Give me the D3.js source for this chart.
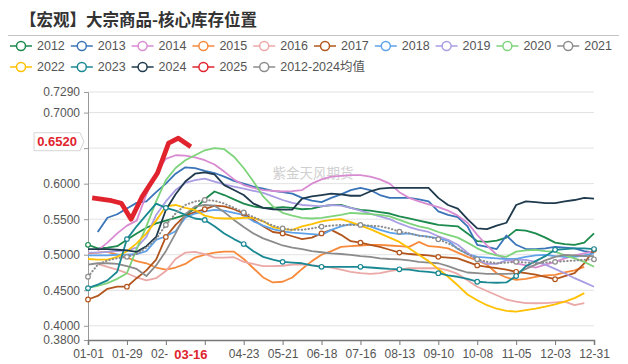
<!DOCTYPE html>
<meta charset="utf-8">
<title>大宗商品-核心库存位置</title>
<style>
  body { margin: 0; background: #fff; }
  svg text { font-family: "Liberation Sans", "Noto Sans CJK SC", sans-serif; }
</style>
<body>
<div id="chart"></div>
<script src="https://cdn.jsdelivr.net/npm/d3@7/dist/d3.min.js"></script>
<script>

// weekly dates shared by 2012-2024 and the average
var weeks = ["01-01","01-08","01-15","01-22","01-29","02-05","02-12","02-19","02-26","03-05","03-12","03-19","03-26",
  "04-02","04-09","04-16","04-23","04-30","05-07","05-14","05-21","05-28","06-04","06-11","06-18","06-25",
  "07-02","07-09","07-16","07-23","07-30","08-06","08-13","08-20","08-27","09-03","09-10","09-17","09-24",
  "10-01","10-08","10-15","10-22","10-29","11-05","11-12","11-19","11-26","12-03","12-10","12-17","12-24","12-31"];

var xTicks = ["01-01","01-29","02-26","03-26","04-23","05-21","06-18","07-16","08-13","09-10","10-08","11-05","12-03","12-31"];
var yTicks = [0.38, 0.40, 0.45, 0.50, 0.55, 0.60, 0.65, 0.70, 0.729];

var s2012 = [0.514,0.509,0.510,0.512,0.521,0.530,0.538,0.544,0.548,0.552,0.556,0.565,0.578,0.589,0.584,0.578,0.572,0.568,0.566,0.566,
  0.567,0.566,0.564,0.565,0.568,0.570,0.570,0.566,0.563,0.562,0.560,0.558,0.554,0.551,0.548,0.545,0.542,0.541,0.540,0.530,
  0.519,0.518,0.520,0.524,0.535,0.534,0.530,0.524,0.517,0.515,0.514,0.517,0.530];
var s2013 = [null,0.532,0.552,0.557,0.565,0.573,0.575,0.588,0.600,0.614,0.623,0.622,0.618,0.615,0.610,0.604,0.600,0.596,0.593,0.590,
  0.588,0.586,0.580,0.576,0.574,0.580,0.585,0.591,0.594,0.591,0.584,0.580,0.580,0.580,0.578,0.575,0.561,0.556,0.553,0.540,
  0.514,0.511,0.508,0.527,0.514,0.508,0.508,0.509,0.511,0.510,0.509,0.505,0.503];
var s2014 = [null,0.506,0.517,0.530,0.541,0.548,0.585,0.615,0.635,0.640,0.6395,0.637,0.633,0.627,0.617,0.606,0.598,0.594,0.591,0.590,
  0.589,0.5895,0.591,0.600,0.606,0.610,0.611,0.612,0.612,0.610,0.606,0.600,0.588,0.580,0.575,0.571,0.567,0.562,0.555,0.545,
  0.528,0.513,0.500,0.494,0.488,0.485,0.482,0.486,0.490,0.495,0.499,0.502,0.505];
var s2015 = [0.502,0.503,0.504,0.500,0.496,0.491,0.488,0.482,0.479,0.482,0.487,0.496,0.500,0.503,0.5044,0.5044,0.494,0.481,0.468,0.461,
  0.462,0.468,0.480,0.491,0.500,0.505,0.511,0.512,0.513,0.514,0.514,0.513,0.512,0.511,0.518,0.512,0.511,0.509,0.503,0.497,
  0.492,0.486,0.474,0.468,0.4645,0.466,0.469,0.471,0.4716,0.475,0.478,0.483,null];
var s2016 = [null,0.487,0.483,0.479,0.474,0.468,0.464,0.467,0.477,0.494,0.503,0.504,0.501,0.496,0.496,0.4965,0.490,0.487,0.484,0.484,
  0.4845,0.486,0.486,0.485,0.484,0.482,0.479,0.476,0.474,0.473,0.474,0.477,0.479,0.481,0.481,0.481,0.481,0.478,0.473,0.464,
  0.455,0.449,0.443,0.437,0.434,0.432,0.4317,0.432,0.433,0.434,0.429,0.432,null];
var s2017 = [0.437,0.442,0.452,0.455,0.455,0.467,0.478,0.493,0.525,0.542,0.555,0.560,0.564,0.569,0.568,0.564,0.558,0.549,0.540,0.532,
  0.530,0.526,0.522,0.524,0.530,0.535,0.528,0.519,0.517,0.514,0.511,0.507,0.503,0.501,0.500,0.499,0.497,0.496,0.495,0.490,
  0.485,0.483,0.481,0.479,0.476,0.474,0.472,0.469,0.4655,0.470,0.474,0.488,0.507];
var s2018 = [0.499,0.499,0.499,0.500,0.500,0.501,0.505,0.521,0.526,0.533,0.552,0.558,0.561,0.563,0.562,0.559,0.556,0.547,0.541,0.536,
  0.533,0.531,0.530,0.529,0.528,0.535,0.540,0.543,0.542,0.540,0.535,0.531,0.529,0.530,0.527,0.5255,0.523,0.520,0.508,0.501,
  0.497,0.496,0.495,0.494,0.494,0.497,0.499,0.4997,0.498,0.497,0.497,0.499,0.502];
var s2019 = [0.503,0.503,0.504,0.505,0.506,0.510,0.525,0.556,0.575,0.591,0.601,0.605,0.607,0.603,0.599,0.596,0.593,0.590,0.587,0.582,
  0.577,0.573,0.570,0.569,0.568,0.570,0.569,0.566,0.562,0.558,0.554,0.550,0.544,0.539,0.535,0.532,0.526,0.521,0.514,0.503,
  0.4927,0.487,0.487,0.492,0.4927,0.4927,0.490,0.486,0.480,0.474,0.467,0.461,0.455];
var s2020 = [0.454,0.456,0.460,0.466,0.474,0.508,0.540,0.575,0.605,0.622,0.633,0.640,0.647,0.650,0.6485,0.638,0.622,0.603,0.582,0.568,
  0.559,0.555,0.552,0.551,0.552,0.554,0.556,0.559,0.558,0.557,0.556,0.554,0.549,0.544,0.540,0.537,0.532,0.528,0.524,0.517,
  0.509,0.503,0.499,0.497,0.5044,0.506,0.5068,0.505,0.5044,0.499,0.495,0.490,0.483];
var s2021 = [0.486,0.488,0.488,0.487,0.484,0.480,0.470,0.485,0.505,0.530,0.557,0.568,0.570,0.569,0.560,0.549,0.539,0.530,0.523,0.518,
  0.513,0.510,0.508,0.505,0.5035,0.502,0.501,0.4997,0.498,0.497,0.495,0.494,0.4936,0.492,0.490,0.489,0.488,0.484,0.479,0.475,
  0.474,0.473,0.473,0.473,0.474,0.480,0.486,0.492,0.497,0.4997,0.499,0.498,0.498];
var s2022 = [0.494,0.493,0.493,0.497,0.505,0.516,0.530,0.548,0.568,0.570,0.566,0.563,0.555,0.552,0.551,0.551,0.552,0.552,0.547,0.539,
  0.536,0.535,0.540,0.543,0.547,0.549,0.550,0.546,0.541,0.536,0.530,0.524,0.518,0.509,0.500,0.491,0.480,0.469,0.457,0.444,
  0.436,0.429,0.424,0.421,0.420,0.422,0.424,0.427,0.430,0.434,0.439,0.446,null];
var s2023 = [0.453,0.458,0.464,0.476,0.522,0.540,0.556,0.572,0.566,0.562,0.556,0.551,0.549,0.540,0.530,0.522,0.515,0.505,0.497,0.493,
  0.490,0.489,0.488,0.485,0.483,0.483,0.483,0.483,0.483,0.482,0.481,0.480,0.4795,0.479,0.477,0.476,0.474,0.471,0.469,0.466,
  0.462,0.461,0.4606,0.461,0.470,0.484,0.491,0.498,0.507,0.508,0.509,0.509,0.508];
var s2024 = [0.508,0.508,0.508,0.507,0.506,0.504,0.512,0.525,0.563,0.585,0.603,0.614,0.616,0.613,0.598,0.591,0.584,0.572,0.566,0.564,
  0.5635,0.5635,0.579,0.582,0.584,0.586,0.585,0.583,0.583,0.589,0.593,0.594,0.594,0.594,0.594,0.594,0.580,0.570,0.565,0.550,
  0.537,0.536,0.541,0.545,0.570,0.575,0.574,0.5725,0.5725,0.575,0.577,0.580,0.579];
var sAvg = [0.469,0.486,0.492,0.495,0.497,0.501,0.510,0.522,0.542,0.558,0.570,0.575,0.577,0.576,0.572,0.566,0.5594,0.553,0.547,0.541,
  0.537,0.535,0.535,0.537,0.5396,0.541,0.542,0.542,0.542,0.541,0.540,0.537,0.5325,0.530,0.527,0.525,0.5218,0.516,0.509,0.501,
  0.4936,0.490,0.488,0.489,0.490,0.489,0.488,0.489,0.490,0.491,0.4917,0.493,0.4936];

// 2025 has its own dates
var dates2025 = ["01-04","01-18","01-25","02-01","02-09","02-20","02-28","03-07","03-16"];
var s2025 = [0.580,0.576,0.5725,0.550,0.582,0.615,0.657,0.664,0.652];

var names = ["2012","2013","2014","2015","2016","2017","2018","2019","2020","2021","2022","2023","2024","2025","2012-2024均值"];
var colors = ["#1b8a4c","#3a74b8","#d98bd2","#f7893b","#eaa8a6","#b3561e","#5ea2ea","#a99de3","#7ed47b","#8c8c8c",
  "#ffc000","#1a8893","#1f3a4d","#e0232d","#8c8c8c"];

var monthStart = [0,31,59,90,120,151,181,212,243,273,304,334];
function dayOf(md) {
  var p = md.split("-");
  return monthStart[+p[0] - 1] + (+p[1]) - 1;
}

var weekly = [s2012,s2013,s2014,s2015,s2016,s2017,s2018,s2019,s2020,s2021,s2022,s2023,s2024];
var series = weekly.map(function(vals, i) {
  return { name: names[i], color: colors[i], points: vals.map(function(v, j) { return { day: dayOf(weeks[j]), v: v, j: j }; }) };
});
var avgSeries = { name: names[14], color: colors[14], points: sAvg.map(function(v, j) { return { day: dayOf(weeks[j]), v: v, j: j }; }) };
var s25 = { name: names[13], color: colors[13], points: s2025.map(function(v, j) { return { day: dayOf(dates2025[j]), v: v, j: j }; }) };

var W = 628, H = 364;
var margin = {top: 92, right: 34, bottom: 24, left: 88};
var width = W - margin.left - margin.right,
    height = H - margin.top - margin.bottom;

var svg = d3.select("#chart").append("svg")
  .attr("width", W).attr("height", H);

// title + separator
svg.append("text")
  .attr("x", 20).attr("y", 26)
  .style("font-family", "'Noto Sans CJK SC', sans-serif")
  .style("font-size", "16.5px").style("font-weight", "bold")
  .attr("fill", "#333")
  .text("【宏观】大宗商品-核心库存位置");
svg.append("line")
  .attr("x1", 8).attr("x2", 619).attr("y1", 35.5).attr("y2", 35.5)
  .attr("stroke", "#c4c4c4").attr("stroke-width", 1);

// legend
var legend = svg.append("g");
names.forEach(function(n, i) {
  var lx = 10 + (i % 10) * 60.8, ly = i < 10 ? 46 : 67;
  var g = legend.append("g").attr("transform", "translate(" + lx + "," + ly + ")");
  g.append("line").attr("x1", 0).attr("x2", 22).attr("stroke", colors[i]).attr("stroke-width", 1.5);
  g.append("circle").attr("cx", 11).attr("r", 4.5).attr("fill", "#fff").attr("stroke", colors[i]).attr("stroke-width", 1.5);
  g.append("text").attr("x", 27).attr("dy", "0.35em")
    .style("font-size", "12.5px").attr("fill", "#555").text(n);
});

var chart = svg.append("g").attr("transform", "translate(" + margin.left + "," + margin.top + ")");

var x = d3.scaleLinear().domain([0, 364]).range([0, width]);
var y = d3.scaleLinear().domain([0.38, 0.729]).range([height, 0]);

var lastV = s2025[s2025.length - 1];
var pointerDay = dayOf(dates2025[dates2025.length - 1]);

// grid
chart.append("g").selectAll("line")
  .data(yTicks.slice(1))
  .enter().append("line")
    .attr("x1", 0).attr("x2", width)
    .attr("y1", function(d) { return y(d); }).attr("y2", function(d) { return y(d); })
    .attr("stroke", "#e2e2e2").attr("stroke-width", 1);

// watermark
chart.append("text")
  .attr("x", 225).attr("y", 86)
  .attr("text-anchor", "middle")
  .style("font-family", "'Noto Sans CJK SC', sans-serif")
  .style("font-size", "13.5px").attr("fill", "#cfcfcf")
  .text("紫金天风期货");

// y axis (the tick label under the pointer box is hidden, as in the original)
var yAxis = chart.append("g")
  .call(d3.axisLeft(y).tickValues(yTicks).tickFormat(d3.format(".4f")).tickSize(4).tickPadding(4));
yAxis.select(".domain").attr("stroke", "#999");
yAxis.selectAll(".tick line").attr("stroke", "#999");
yAxis.selectAll("text").style("font-size", "12px").attr("fill", "#555")
  .style("display", function(d) { return Math.abs(y(d) - y(lastV)) < 8 ? "none" : null; });

// x axis
var xAxis = chart.append("g")
  .attr("transform", "translate(0," + height + ")")
  .call(d3.axisBottom(x).tickValues(xTicks.map(dayOf)).tickFormat(function(d, i) { return xTicks[i]; }).tickSize(5).tickPadding(4));
xAxis.select(".domain").attr("stroke", "#777").attr("stroke-width", 1.5);
xAxis.selectAll(".tick line").attr("stroke", "#777");
xAxis.selectAll("text").style("font-size", "12px").attr("fill", "#555")
  .style("display", function(d) { return Math.abs(x(d) - x(pointerDay)) < 20 ? "none" : null; });

// lines
var line = d3.line()
  .defined(function(d) { return d.v != null; })
  .x(function(d) { return x(d.day); })
  .y(function(d) { return y(d.v); });

var plot = chart.append("g");
series.forEach(function(s) {
  plot.append("path").datum(s.points)
    .attr("fill", "none").attr("stroke", s.color).attr("stroke-width", 1.8)
    .attr("stroke-linejoin", "round").attr("d", line);
});
plot.append("path").datum(avgSeries.points)
  .attr("fill", "none").attr("stroke", avgSeries.color).attr("stroke-width", 2)
  .attr("stroke-dasharray", "0.5 3").attr("stroke-linecap", "round").attr("d", line);

// hollow markers every 4th week on a few series
[series[5], series[11], avgSeries].forEach(function(s) {
  plot.append("g").selectAll("circle")
    .data(s.points.filter(function(d) { return d.v != null && d.j % 4 === 0; }))
    .enter().append("circle")
      .attr("cx", function(d) { return x(d.day); })
      .attr("cy", function(d) { return y(d.v); })
      .attr("r", 2.3).attr("fill", "#fff").attr("stroke", s.color).attr("stroke-width", 1.2);
});
plot.append("circle")
  .attr("cx", x(series[0].points[0].day)).attr("cy", y(series[0].points[0].v))
  .attr("r", 2.3).attr("fill", "#fff").attr("stroke", series[0].color).attr("stroke-width", 1.2);

plot.append("path").datum(s25.points)
  .attr("fill", "none").attr("stroke", s25.color).attr("stroke-width", 4.8)
  .attr("stroke-linejoin", "round").attr("d", line);

// axis pointer labels for the last 2025 value
var py = y(lastV) - 5;
var yl = chart.append("g").attr("transform", "translate(0," + py + ")");
yl.append("path")
  .attr("d", "M-54,-9 H-8 L-4,0 L-8,9 H-54 Z")
  .attr("fill", "#fff").attr("stroke", "#d6d6d6");
yl.append("text").attr("x", -31).attr("dy", "0.36em").attr("text-anchor", "middle")
  .style("font-size", "13px").style("font-weight", "bold").attr("fill", "#e0232d")
  .text(d3.format(".4f")(lastV));

var xl = chart.append("g").attr("transform", "translate(" + x(pointerDay) + "," + (height + 14) + ")");
xl.append("rect").attr("x", -23).attr("y", -8).attr("width", 46).attr("height", 18).attr("fill", "#fff");
xl.append("text").attr("dy", "0.4em").attr("text-anchor", "middle")
  .style("font-size", "13px").style("font-weight", "bold").attr("fill", "#e0232d")
  .text(dates2025[dates2025.length - 1]);

</script>
</body>
